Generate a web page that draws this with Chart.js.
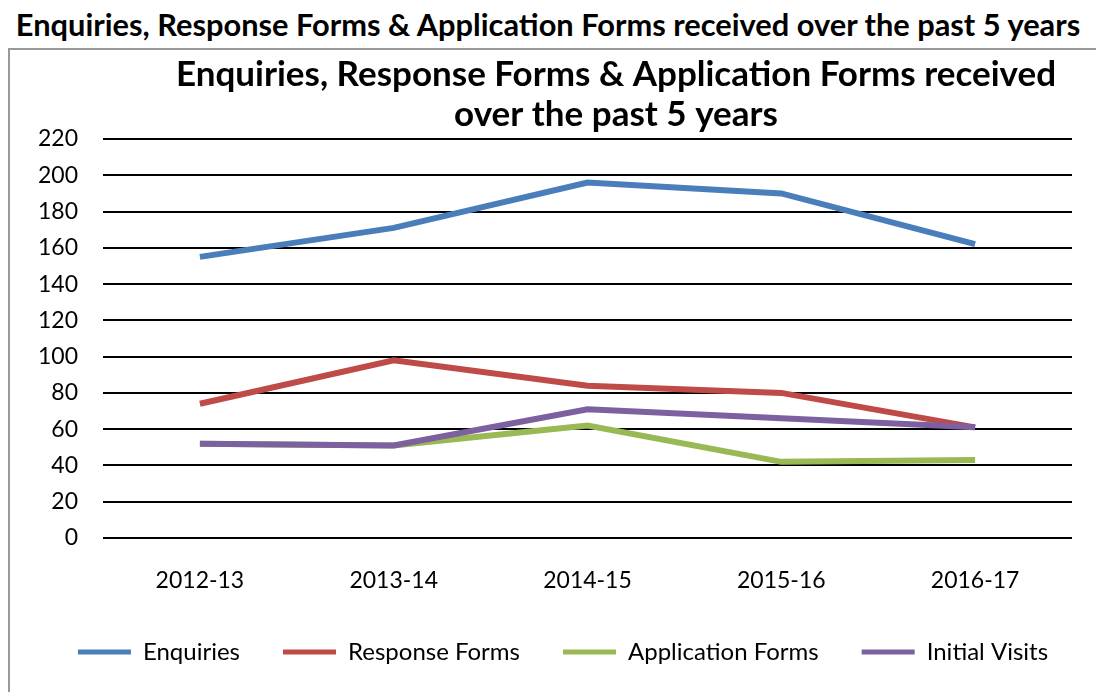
<!DOCTYPE html>
<html>
<head>
<meta charset="utf-8">
<script src="https://cdn.jsdelivr.net/npm/chart.js@4"></script>
<style>
    body { margin: 0; background: #fff; font-family: Lato, sans-serif; overflow: hidden; }
    #pageTitle {
        position: absolute; left: 0; top: 7px; width: 1096px; line-height: 36px;
        text-align: center; font-weight: bold; font-size: 30.8px; color: #000;
    }
    #box {
        position: absolute; left: 8px; top: 48px; width: 1100px; height: 700px;
        border: 2px solid #999; box-sizing: border-box;
    }
    #wrap { position: absolute; left: 10px; top: 44px; width: 1086px; height: 648px; }
</style>
</head>
<body>
<div id="pageTitle">Enquiries, Response Forms &amp; Application Forms received over the past 5 years</div>
<div id="box"></div>
<div id="wrap"><canvas id="chart"></canvas></div>
<script>
const years = ["2012-13", "2013-14", "2014-15", "2015-16", "2016-17"];
const enquiries = [155, 171, 196, 190, 162];
const responseForms = [74, 98, 84, 80, 61];
const applicationForms = [52, 51, 62, 42, 43];
const initialVisits = [52, 51, 71, 66, 61];

const chartTitle = ["Enquiries, Response Forms & Application Forms received", "over the past 5 years"];
const font = "Lato, sans-serif";

// later series sit on top, like the original
function series(label, data, color, order) {
    return {
        label: label,
        data: data,
        borderColor: color,
        backgroundColor: color,
        borderWidth: 6,
        pointRadius: 0,
        tension: 0,
        order: order
    };
}

// the original centres title and legend a bit right of the plot, nudge them over
const nudgeBoxes = {
    id: "nudgeBoxes",
    afterLayout(chart) {
        if (chart.titleBlock) { chart.titleBlock.left += 75; chart.titleBlock.right += 75; }
        if (chart.legend) { chart.legend.left += 22; chart.legend.right += 22; }
    }
};

const ctx = document.getElementById("chart").getContext("2d");
new Chart(ctx, {
    type: "line",
    data: {
        labels: years,
        datasets: [
            series("Enquiries", enquiries, "#4a7ebb", 3),
            series("Response Forms", responseForms, "#be4b48", 2),
            series("Application Forms", applicationForms, "#98b954", 1),
            series("Initial Visits", initialVisits, "#7d60a0", 0)
        ]
    },
    plugins: [nudgeBoxes],
    options: {
        responsive: true,
        maintainAspectRatio: false,
        animation: false,
        layout: { padding: { left: 0, right: 24, top: 0, bottom: 18 } },
        plugins: {
            title: {
                display: true,
                text: chartTitle,
                color: "#000",
                font: { family: font, size: 35, weight: "bold", lineHeight: 1.143 },
                padding: { top: 11, bottom: 4 }
            },
            legend: {
                position: "bottom",
                labels: {
                    color: "#000",
                    font: { family: font, size: 24 },
                    boxWidth: 53,
                    boxHeight: 5,
                    padding: 43,
                    generateLabels: chart => chart.data.datasets.map((d, i) => ({
                        text: d.label,
                        fillStyle: d.borderColor,
                        strokeStyle: d.borderColor,
                        lineWidth: 0,
                        datasetIndex: i
                    }))
                }
            },
            tooltip: { enabled: false }
        },
        scales: {
            x: {
                offset: true,
                afterFit: s => { s.height = 59; },
                grid: { display: false, drawTicks: false },
                border: { display: false },
                ticks: { color: "#000", font: { family: font, size: 23 }, padding: 29 }
            },
            y: {
                min: 0,
                max: 220,
                afterFit: s => { s.width = 93; },
                ticks: { stepSize: 20, autoSkip: false, color: "#000", font: { family: font, size: 23 }, padding: 25 },
                grid: { color: "#000", lineWidth: 2, drawTicks: false },
                border: { display: false }
            }
        }
    }
});
</script>
</body>
</html>
